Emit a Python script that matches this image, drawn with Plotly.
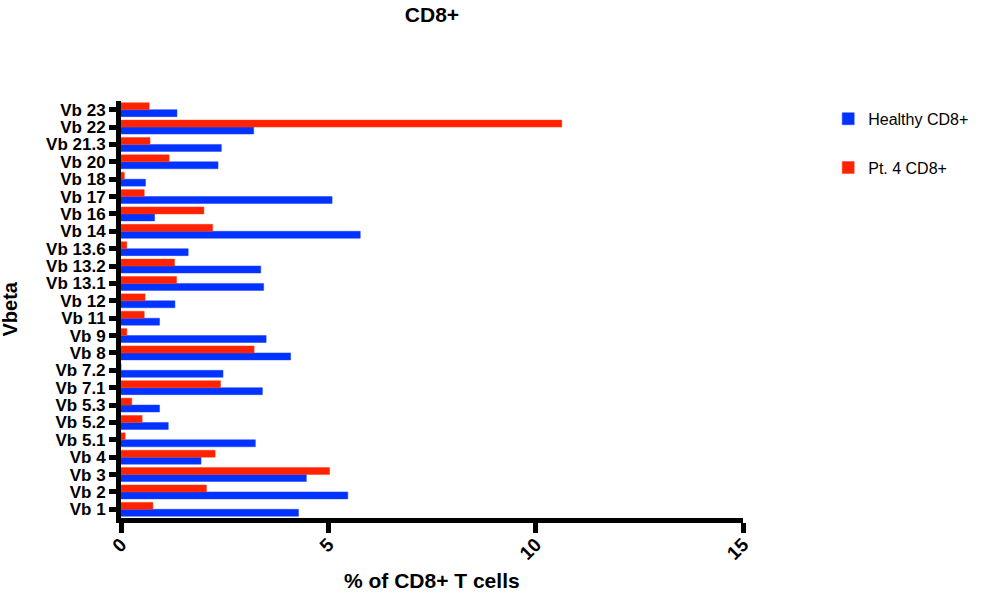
import plotly.graph_objects as go

categories = ["Vb 1", "Vb 2", "Vb 3", "Vb 4", "Vb 5.1", "Vb 5.2", "Vb 5.3", "Vb 7.1", "Vb 7.2",
              "Vb 8", "Vb 9", "Vb 11", "Vb 12", "Vb 13.1", "Vb 13.2", "Vb 13.6", "Vb 14",
              "Vb 16", "Vb 17", "Vb 18", "Vb 20", "Vb 21.3", "Vb 22", "Vb 23"]

healthy_cd8 = [4.28, 5.47, 4.47, 1.93, 3.24, 1.14, 0.93, 3.41, 2.46,
               4.09, 3.50, 0.93, 1.30, 3.44, 3.37, 1.62, 5.77,
               0.81, 5.09, 0.59, 2.34, 2.42, 3.20, 1.35]

pt4_cd8 = [0.77, 2.06, 5.03, 2.27, 0.10, 0.51, 0.26, 2.40, 0.0,
           3.21, 0.14, 0.56, 0.58, 1.34, 1.29, 0.14, 2.21,
           2.00, 0.56, 0.08, 1.16, 0.70, 10.63, 0.68]

x_ticks = [0, 5, 10, 15]

FONT = "Liberation Sans, Arial, sans-serif"

fig = go.Figure()
fig.add_trace(go.Bar(
    y=categories, x=healthy_cd8, orientation="h", name="Healthy CD8+",
    marker=dict(color="#0033ff", line=dict(color="#1a3dff", width=0.5)),
    legendgroup="a",
))
fig.add_trace(go.Bar(
    y=categories, x=pt4_cd8, orientation="h", name="Pt. 4 CD8+",
    marker=dict(color="#ff2200", line=dict(color="#ff3b1a", width=0.5)),
    legendgroup="b",
))

fig.update_layout(
    width=982, height=593,
    margin=dict(l=121, r=239, t=101, b=75, autoexpand=False),
    plot_bgcolor="white", paper_bgcolor="white",
    barmode="group", bargap=0.2, bargroupgap=0.0,
    font=dict(family=FONT, color="black"),
    title=dict(text="<b>CD8+</b>", x=0.5, xref="paper", xanchor="center",
               y=0.975, yref="container", yanchor="middle",
               font=dict(size=21, family=FONT, color="black")),
    legend=dict(x=1.137, xanchor="left", y=0.998, yanchor="top",
                traceorder="grouped", tracegroupgap=25,
                font=dict(size=16, family=FONT, color="black"),
                bgcolor="rgba(0,0,0,0)"),
    xaxis=dict(range=[0, 15], tickvals=x_ticks, ticktext=[str(t) for t in x_ticks],
               showline=True, linecolor="black", linewidth=5,
               ticks="outside", ticklen=10, tickwidth=5, tickcolor="black",
               tickangle=-45, ticklabelstandoff=-7, showgrid=False, zeroline=False,
               tickfont=dict(size=19, family=FONT, color="black", weight="bold")),
    yaxis=dict(range=[-0.5, 23.5], type="category",
               tickmode="array", tickvals=categories, ticktext=categories,
               showline=True, linecolor="black", linewidth=5,
               ticks="outside", ticklen=7, tickwidth=5, tickcolor="black",
               showgrid=False, zeroline=False,
               tickfont=dict(size=17, family=FONT, color="black", weight="bold")),
    annotations=[
        dict(text="<b>% of CD8+ T cells</b>", xref="paper", yref="paper",
             x=0.5, y=-0.15, xanchor="center", yanchor="middle", showarrow=False,
             font=dict(size=21, family=FONT, color="black")),
        dict(text="<b>Vbeta</b>", xref="paper", yref="paper",
             x=-0.18, y=0.5, xanchor="center", yanchor="middle", showarrow=False,
             textangle=-90, font=dict(size=20, family=FONT, color="black")),
    ],
)

fig.write_html("out.html", config={"displayModeBar": False},
               post_script="document.body.style.margin='0';")
